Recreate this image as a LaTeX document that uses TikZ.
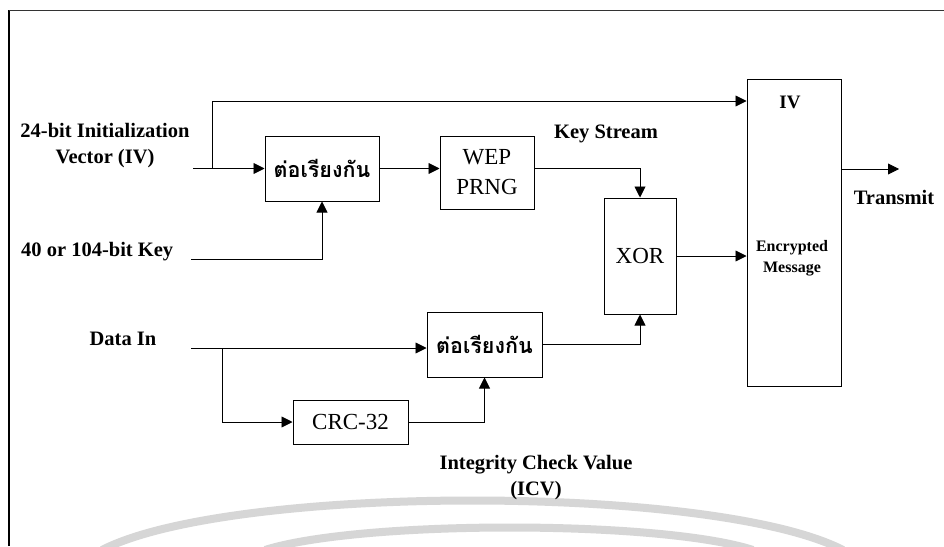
\documentclass[tikz,border=0pt]{standalone}
\usepackage{fontspec}
\setmainfont{Liberation Serif}
\newfontfamily\thaifont[Script=Thai]{Loma}
\usetikzlibrary{arrows.meta,calc}
\tikzset{
  lbl/.style={font=\fontsize{20.5}{26}\selectfont\bfseries, align=center, inner sep=0pt},
  blk/.style={draw, line width=1pt, inner sep=0pt, align=center, font=\fontsize{23}{30}\selectfont},
  thaiblk/.style={blk, font=\thaifont\fontsize{21.5}{24}\selectfont\bfseries},
  conn/.style={line width=0.9pt, -{Triangle[length=11pt,width=11pt]}},
  wm/.style={line width=8pt, color=black!16}
}
\begin{document}
\begin{tikzpicture}[x=1pt,y=-1pt]
\useasboundingbox (0,0) rectangle (944,546);
\fill[white] (0,0) rectangle (944,546);
% watermark
\draw[wm] (102,550) .. controls (230,484) and (715,484) .. (843,550);
\draw[wm] (265,550) .. controls (360,520) and (660,520) .. (753,550);
% frame
\draw[line width=2pt] (9,546) -- (9,10);
\draw[line width=1pt, black!80] (9,10) -- (944,10);
% blocks
\node[thaiblk, minimum width=114pt, minimum height=65pt] (cat1) at (322,168.5) {ต่อเรียงกัน};
\node[blk, minimum width=94pt, minimum height=73pt] (wep) at (487,172.5) {WEP\\PRNG};
\node[blk, minimum width=72pt, minimum height=116pt] (xor) at (640,256) {XOR};
\node[blk, minimum width=94pt, minimum height=307pt] (msg) at (794,232.5) {};
\node[thaiblk, minimum width=115pt, minimum height=65pt] (cat2) at (484.5,344.5) {ต่อเรียงกัน};
\node[blk, minimum width=115pt, minimum height=44pt] (crc) at (350.5,422) {CRC-32};
% labels
\node[lbl] (ivl) at (105,146) {24-bit Initialization\\Vector (IV)};
\node[lbl, anchor=west] (keyl) at (21,252) {40 or 104-bit Key};
\node[lbl] (datal) at (123,339) {Data In};
\node[lbl] (ksl) at (606,134) {Key Stream};
\node[lbl] (icvl) at (536,478) {Integrity Check Value\\(ICV)};
\node[lbl] (txl) at (894,197) {Transmit};
\node[lbl, font=\fontsize{19}{22}\selectfont\bfseries] (ivm) at (790,102) {IV};
\node[lbl, font=\fontsize{16}{21}\selectfont\bfseries] (encm) at (792,258) {Encrypted\\Message};
% coordinates
\coordinate (ivs) at (193,168.5);
\coordinate (ivtap) at (212,168.5);
\coordinate (ivtop) at (212,101);
\coordinate (keys) at (191,259);
\coordinate (datas) at (191,348);
\coordinate (dtap) at (222,348);
\coordinate (tx) at (899,169);
% connectors
\draw[conn] (ivs) -- (cat1.west);
\draw[conn] (ivtap) -- (ivtop) -- (ivtop -| msg.west);
\draw[conn] (keys) -| (cat1.south);
\draw[conn] (cat1.east) -- (cat1.east -| wep.west);
\draw[conn] (cat1.east -| wep.east) -| (xor.north);
\draw[conn] (xor.east) -- (xor.east -| msg.west);
\draw[conn] (msg.east |- tx) -- (tx);
\draw[conn] (datas) -- (datas -| cat2.west);
\draw[conn] (dtap) |- (crc.west);
\draw[conn] (crc.east) -| (cat2.south);
\draw[conn] (cat2.east) -| (xor.south);
\end{tikzpicture}
\end{document}
